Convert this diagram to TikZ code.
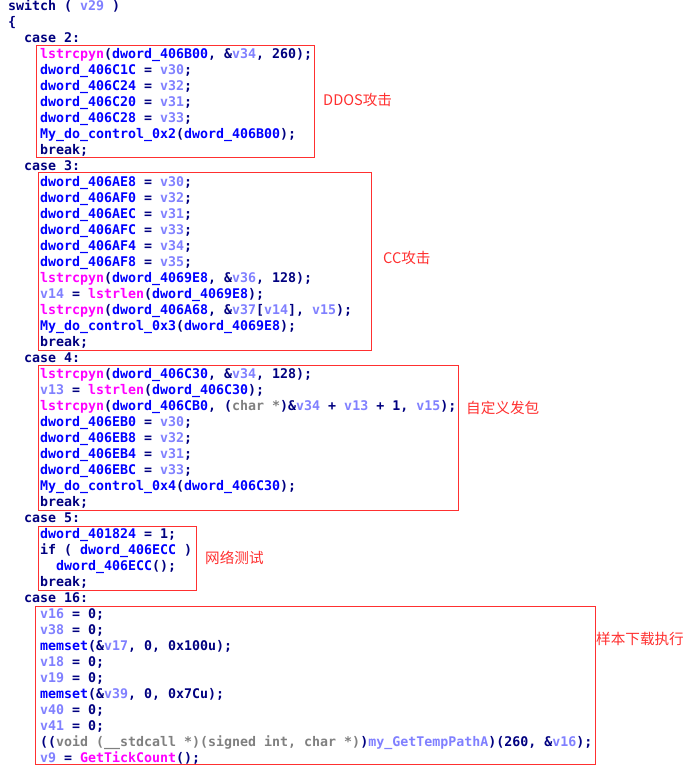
\documentclass[tikz,border=0pt]{standalone}
\usepackage{fontspec}
\setmonofont{DejaVu Sans Mono}
\newfontfamily\cjk{Noto Sans CJK SC}
\usepackage{tikz}

\definecolor{idanavy}{RGB}{0,0,128}
\definecolor{idablue}{RGB}{0,0,255}
\definecolor{idavar}{RGB}{128,128,255}
\definecolor{idafn}{RGB}{255,0,255}
\definecolor{idatype}{RGB}{128,128,128}
\definecolor{markred}{RGB}{255,48,48}

\newcommand\cdId[1]{\textcolor{idablue}{#1}}
\newcommand\cdVar[1]{\textcolor{idavar}{#1}}
\newcommand\cdFn[1]{\textcolor{idafn}{#1}}
\newcommand\cdTy[1]{\textcolor{idatype}{#1}}

\begin{document}
\begin{tikzpicture}[x=1pt,y=-1pt,
    code/.style={anchor=base west,inner sep=0pt,text=idanavy,
      font=\ttfamily\bfseries\fontsize{13.29}{16}\selectfont},
    note/.style={anchor=west,inner sep=0pt,text=markred,
      font=\cjk\fontsize{14.6}{16}\selectfont},
    hl/.style={draw=markred,line width=1pt}]
        \useasboundingbox (0,0) rectangle (691,770);
        \fill[white] (0,0) rectangle (691,770);
        % listing
        \node[code] (l0) at (8,10.5) {switch ( \cdVar{v29} )};
        \node[code] (l1) at (8,26.5) {\{};
        \node[code] (l2) at (24,42.5) {case 2:};
        \node[code] (l3) at (40,58.5) {\cdFn{lstrcpyn}(\cdId{dword\_406B00}, \&\cdVar{v34}, 260);};
        \node[code] (l4) at (40,74.5) {\cdId{dword\_406C1C} = \cdVar{v30};};
        \node[code] (l5) at (40,90.5) {\cdId{dword\_406C24} = \cdVar{v32};};
        \node[code] (l6) at (40,106.5) {\cdId{dword\_406C20} = \cdVar{v31};};
        \node[code] (l7) at (40,122.5) {\cdId{dword\_406C28} = \cdVar{v33};};
        \node[code] (l8) at (40,138.5) {\cdId{My\_do\_control\_0x2}(\cdId{dword\_406B00});};
        \node[code] (l9) at (40,154.5) {break;};
        \node[code] (l10) at (24,170.5) {case 3:};
        \node[code] (l11) at (40,186.5) {\cdId{dword\_406AE8} = \cdVar{v30};};
        \node[code] (l12) at (40,202.5) {\cdId{dword\_406AF0} = \cdVar{v32};};
        \node[code] (l13) at (40,218.5) {\cdId{dword\_406AEC} = \cdVar{v31};};
        \node[code] (l14) at (40,234.5) {\cdId{dword\_406AFC} = \cdVar{v33};};
        \node[code] (l15) at (40,250.5) {\cdId{dword\_406AF4} = \cdVar{v34};};
        \node[code] (l16) at (40,266.5) {\cdId{dword\_406AF8} = \cdVar{v35};};
        \node[code] (l17) at (40,282.5) {\cdFn{lstrcpyn}(\cdId{dword\_4069E8}, \&\cdVar{v36}, 128);};
        \node[code] (l18) at (40,298.5) {\cdVar{v14} = \cdFn{lstrlen}(\cdId{dword\_4069E8});};
        \node[code] (l19) at (40,314.5) {\cdFn{lstrcpyn}(\cdId{dword\_406A68}, \&\cdVar{v37}[\cdVar{v14}], \cdVar{v15});};
        \node[code] (l20) at (40,330.5) {\cdId{My\_do\_control\_0x3}(\cdId{dword\_4069E8});};
        \node[code] (l21) at (40,346.5) {break;};
        \node[code] (l22) at (24,362.5) {case 4:};
        \node[code] (l23) at (40,378.5) {\cdFn{lstrcpyn}(\cdId{dword\_406C30}, \&\cdVar{v34}, 128);};
        \node[code] (l24) at (40,394.5) {\cdVar{v13} = \cdFn{lstrlen}(\cdId{dword\_406C30});};
        \node[code] (l25) at (40,410.5) {\cdFn{lstrcpyn}(\cdId{dword\_406CB0}, (\cdTy{char *})\&\cdVar{v34} + \cdVar{v13} + 1, \cdVar{v15});};
        \node[code] (l26) at (40,426.5) {\cdId{dword\_406EB0} = \cdVar{v30};};
        \node[code] (l27) at (40,442.5) {\cdId{dword\_406EB8} = \cdVar{v32};};
        \node[code] (l28) at (40,458.5) {\cdId{dword\_406EB4} = \cdVar{v31};};
        \node[code] (l29) at (40,474.5) {\cdId{dword\_406EBC} = \cdVar{v33};};
        \node[code] (l30) at (40,490.5) {\cdId{My\_do\_control\_0x4}(\cdId{dword\_406C30});};
        \node[code] (l31) at (40,506.5) {break;};
        \node[code] (l32) at (24,522.5) {case 5:};
        \node[code] (l33) at (40,538.5) {\cdId{dword\_401824} = 1;};
        \node[code] (l34) at (40,554.5) {if ( \cdId{dword\_406ECC} )};
        \node[code] (l35) at (56,570.5) {\cdId{dword\_406ECC}();};
        \node[code] (l36) at (40,586.5) {break;};
        \node[code] (l37) at (24,602.5) {case 16:};
        \node[code] (l38) at (40,618.5) {\cdVar{v16} = 0;};
        \node[code] (l39) at (40,634.5) {\cdVar{v38} = 0;};
        \node[code] (l40) at (40,650.5) {\cdId{memset}(\&\cdVar{v17}, 0, 0x100u);};
        \node[code] (l41) at (40,666.5) {\cdVar{v18} = 0;};
        \node[code] (l42) at (40,682.5) {\cdVar{v19} = 0;};
        \node[code] (l43) at (40,698.5) {\cdId{memset}(\&\cdVar{v39}, 0, 0x7Cu);};
        \node[code] (l44) at (40,714.5) {\cdVar{v40} = 0;};
        \node[code] (l45) at (40,730.5) {\cdVar{v41} = 0;};
        \node[code] (l46) at (40,746.5) {((\cdTy{void (\_\_stdcall *)(signed int, char *)})\cdVar{my\_GetTempPathA})(260, \&\cdVar{v16});};
        \node[code] (l47) at (40,762.5) {\cdVar{v9} = \cdFn{GetTickCount}();};
        % marked cases
        \draw[hl] (36.5,46) rectangle (314,158);
        \draw[hl] (38.5,173) rectangle (371,350);
        \draw[hl] (38.5,365.5) rectangle (458,510);
        \draw[hl] (38.5,526) rectangle (196,590);
        \draw[hl] (35.5,606.5) rectangle (595,764);
        % notes
        \node[note] (ddos) at (323,100) {DDOS攻击};
        \node[note] (cc) at (383,258) {CC攻击};
        \node[note] (pkt) at (466,408) {自定义发包};
        \node[note] (net) at (205,558) {网络测试};
        \node[note] (dl) at (596,639) {样本下载执行};
      \end{tikzpicture}
\end{document}
